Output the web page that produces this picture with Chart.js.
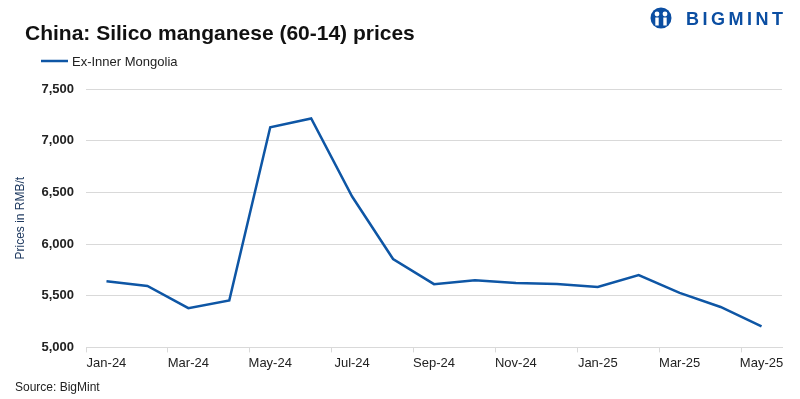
<!DOCTYPE html>
<html lang="en">
<head>
    <meta charset="UTF-8">
    <title>China: Silico manganese (60-14) prices</title>
    <script src="https://cdn.jsdelivr.net/npm/chart.js@4.4.1/dist/chart.umd.min.js"></script>
    <style>
        html, body { margin: 0; padding: 0; background: #fff; }
        #wrap { width: 800px; height: 399px; position: relative; }
    </style>
</head>
<body>
<div id="wrap"><canvas id="pricechart"></canvas></div>

<script>
    // data
    const months = ['Jan-24', 'Feb-24', 'Mar-24', 'Apr-24', 'May-24', 'Jun-24', 'Jul-24', 'Aug-24',
                    'Sep-24', 'Oct-24', 'Nov-24', 'Dec-24', 'Jan-25', 'Feb-25', 'Mar-25', 'Apr-25', 'May-25'];
    const innerMongolia = [5640, 5595, 5380, 5455, 7130, 7215, 6460, 5855,
                           5612, 5650, 5624, 5614, 5584, 5700, 5527, 5391, 5204];
    const seriesName = 'Ex-Inner Mongolia';
    const titleText = 'China: Silico manganese (60-14) prices';
    const sourceText = 'Source: BigMint';
    const yTitle = 'Prices in RMB/t';

    const blue = '#0e56a5';
    const gridGrey = '#d9d9d9';
    const fontFam = '"Liberation Sans", Arial, sans-serif';

    // title, legend, source note and logo
    const decor = {
        id: 'decor',
        afterDraw(chart) {
            const ctx = chart.ctx;
            ctx.save();
            ctx.textBaseline = 'alphabetic';
            ctx.textAlign = 'left';

            ctx.fillStyle = '#111';
            ctx.font = 'bold 21px ' + fontFam;
            ctx.fillText(titleText, 25, 40);

            // legend
            const ds = chart.data.datasets[0];
            ctx.strokeStyle = ds.borderColor;
            ctx.lineWidth = 2.5;
            ctx.beginPath();
            ctx.moveTo(41, 61);
            ctx.lineTo(68, 61);
            ctx.stroke();
            ctx.fillStyle = '#222';
            ctx.font = '13px ' + fontFam;
            ctx.textBaseline = 'middle';
            ctx.fillText(ds.label, 72, 62);

            ctx.font = '12px ' + fontFam;
            ctx.fillText(sourceText, 15, 388);

            // logo
            ctx.fillStyle = '#0b4ea2';
            ctx.beginPath();
            ctx.arc(661, 18, 10.5, 0, Math.PI * 2);
            ctx.fill();
            ctx.fillStyle = '#fff';
            ctx.beginPath(); ctx.arc(657, 14, 2.4, 0, Math.PI * 2); ctx.fill();
            ctx.beginPath(); ctx.arc(665, 14, 2.4, 0, Math.PI * 2); ctx.fill();
            ctx.fillRect(655.3, 17.5, 3.4, 8);
            ctx.fillRect(663.3, 17.5, 3.4, 8);
            ctx.fillStyle = '#0b4ea2';
            ctx.font = 'bold 18px ' + fontFam;
            ctx.letterSpacing = '3.5px';
            ctx.fillText('BIGMINT', 686, 20);
            ctx.restore();
        }
    };

    new Chart(document.getElementById('pricechart'), {
        type: 'line',
        data: {
            labels: months,
            datasets: [{
                label: seriesName,
                data: innerMongolia,
                borderColor: blue,
                backgroundColor: blue,
                borderWidth: 2.5,
                pointRadius: 0,
                tension: 0,
                fill: false
            }]
        },
        options: {
            responsive: true,
            maintainAspectRatio: false,
            animation: false,
            layout: { padding: { top: 89, left: 13, right: 18, bottom: 25 } },
            plugins: {
                legend: { display: false },
                title: { display: false },
                tooltip: { enabled: false }
            },
            scales: {
                x: {
                    offset: true,
                    border: { color: gridGrey, width: 1 },
                    grid: {
                        offset: true,
                        drawOnChartArea: false,
                        drawTicks: true,
                        tickLength: 5,
                        tickColor: (c) => (c.index % 2 === 0 ? gridGrey : 'rgba(0,0,0,0)')
                    },
                    ticks: {
                        autoSkip: false,
                        maxRotation: 0,
                        padding: 3,
                        color: '#222',
                        font: { family: fontFam, size: 13 },
                        callback: function (v, i) { return i % 2 === 0 ? this.getLabelForValue(v) : ''; }
                    }
                },
                y: {
                    min: 5000,
                    max: 7500,
                    border: { display: false },
                    grid: { color: gridGrey, drawTicks: false },
                    ticks: {
                        stepSize: 500,
                        padding: 12,
                        color: '#222',
                        font: { family: fontFam, size: 13, weight: 'bold' },
                        callback: (v) => v.toLocaleString('en-US')
                    },
                    title: {
                        display: true,
                        text: yTitle,
                        color: '#1f3a60',
                        padding: { top: 0, bottom: 0 },
                        font: { family: fontFam, size: 12 }
                    },
                    afterFit: (scale) => { scale.width = 73; }
                }
            }
        },
        plugins: [decor]
    });
</script>
</body>
</html>
